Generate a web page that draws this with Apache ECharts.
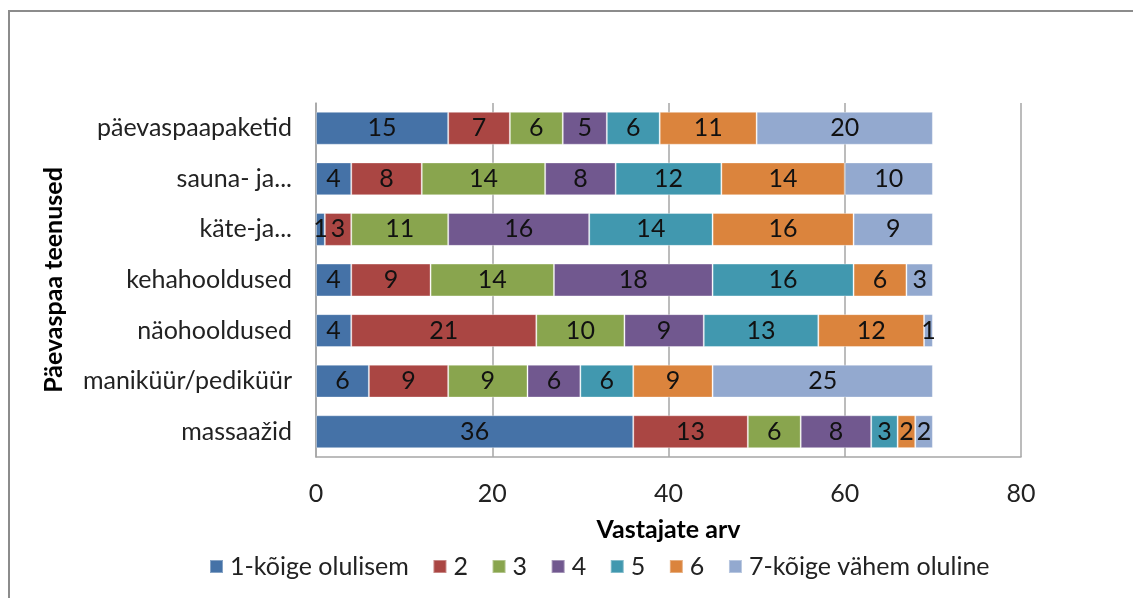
<!DOCTYPE html>
<html>
<head>
<meta charset="utf-8">
<script src="https://cdn.jsdelivr.net/npm/echarts@6/dist/echarts.min.js"></script>
<style>
  html, body { margin: 0; padding: 0; background: #fff; }
  #chart { width: 1133px; height: 598px; }
</style>
</head>
<body>
<div id="chart"></div>
<script>
// categories bottom -> top, as in the picture
const categories = ['massaažid', 'maniküür/pediküür', 'näohooldused', 'kehahooldused', 'käte-ja...', 'sauna- ja...', 'päevaspaapaketid']
const seriesNames = ['1-kõige olulisem', '2', '3', '4', '5', '6', '7-kõige vähem oluline']
const colors = ['#4572A7', '#AA4643', '#89A54E', '#71588F', '#4198AF', '#DB843D', '#93A9CF']

const rank1 = [36, 6, 4, 4, 1, 4, 15]
const rank2 = [13, 9, 21, 9, 3, 8, 7]
const rank3 = [6, 9, 10, 14, 11, 14, 6]
const rank4 = [8, 6, 9, 18, 16, 8, 5]
const rank5 = [3, 6, 13, 16, 14, 12, 6]
const rank6 = [2, 9, 12, 6, 16, 14, 11]
const rank7 = [2, 25, 1, 3, 9, 10, 20]
const values = [rank1, rank2, rank3, rank4, rank5, rank6, rank7]

const xTicks = { min: 0, max: 80, interval: 20 }

const font = 'Lato, "Noto Sans", sans-serif'
const gridColor = '#a6a6a6'
const fs = 25

const chart = echarts.init(document.getElementById('chart'))

const option = {
  animation: false,
  textStyle: { fontFamily: font },
  graphic: [{
    type: 'rect',
    shape: { x: 9, y: 11, width: 1300, height: 800 },
    style: { fill: 'none', stroke: '#8c8c8c', lineWidth: 2 },
    silent: true
  }],
  grid: { left: 316, top: 103, right: 112, bottom: 141 },
  legend: {
    left: 204,
    top: 549,
    icon: 'rect',
    itemWidth: 13,
    itemHeight: 13,
    itemGap: 23.6,
    textStyle: { fontFamily: font, fontSize: fs, color: '#222', padding: [0, 0, 0, 2] },
    data: seriesNames
  },
  xAxis: {
    type: 'value',
    min: xTicks.min,
    max: xTicks.max,
    interval: xTicks.interval,
    name: 'Vastajate arv',
    nameLocation: 'middle',
    nameGap: 60,
    nameTextStyle: { fontFamily: font, fontSize: fs, fontWeight: 'bold', color: '#000' },
    axisLine: { show: true, lineStyle: { color: gridColor, width: 1.5 } },
    axisTick: { show: false },
    axisLabel: { fontFamily: font, fontSize: fs, color: '#222', margin: 24 },
    splitLine: { show: true, lineStyle: { color: gridColor, width: 1.5 } }
  },
  yAxis: {
    type: 'category',
    data: categories,
    name: 'Päevaspaa teenused',
    nameLocation: 'middle',
    nameRotate: 90,
    nameGap: 250,
    nameTextStyle: { fontFamily: font, fontSize: fs, fontWeight: 'bold', color: '#000' },
    axisLine: { show: true, lineStyle: { color: gridColor, width: 1.5 } },
    axisTick: { show: false },
    axisLabel: { fontFamily: font, fontSize: fs, color: '#222', margin: 24 },
    splitLine: { show: false }
  },
  series: seriesNames.map((name, i) => ({
    name: name,
    type: 'bar',
    stack: 'total',
    barCategoryGap: '35%',
    itemStyle: { color: colors[i], borderColor: 'rgba(255,255,255,0.35)', borderWidth: 1 },
    label: {
      show: true,
      position: 'inside',
      fontFamily: font,
      fontSize: fs,
      color: '#111'
    },
    data: values[i]
  }))
}

chart.setOption(option)
</script>
</body>
</html>
